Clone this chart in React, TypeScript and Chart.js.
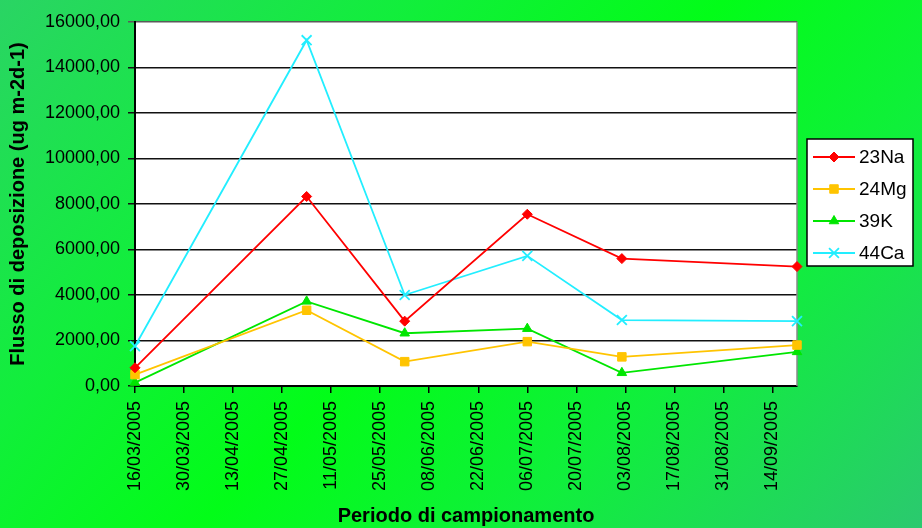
import React, { useEffect, useRef } from "react";
import { Chart, registerables } from "chart.js";
import { drawPoint } from "chart.js/helpers";

Chart.register(...registerables);

// Sampling dates (dd/mm/yyyy) and deposition fluxes (ug m-2 d-1)
const sampleDates = ["16/03/2005", "04/05/2005", "01/06/2005", "06/07/2005", "02/08/2005", "21/09/2005"];
const na23 = [800, 8330, 2850, 7550, 5600, 5250];
const mg24 = [500, 3330, 1070, 1950, 1280, 1800];
const k39 = [150, 3720, 2320, 2520, 580, 1500];
const ca44 = [1750, 15200, 4000, 5720, 2900, 2850];

// Date axis ticks, one every 14 days
const xTickLabels = [
  "16/03/2005", "30/03/2005", "13/04/2005", "27/04/2005", "11/05/2005",
  "25/05/2005", "08/06/2005", "22/06/2005", "06/07/2005", "20/07/2005",
  "03/08/2005", "17/08/2005", "31/08/2005", "14/09/2005",
];

const FONT = '"Liberation Sans", Arial, Helvetica, sans-serif';

function dayOf(s: string): number {
  const [d, m, y] = s.split("/").map(Number);
  const [d0, m0, y0] = sampleDates[0].split("/").map(Number);
  return Math.round((Date.UTC(y, m - 1, d) - Date.UTC(y0, m0 - 1, d0)) / 86400000);
}

const series = [
  { label: "23Na", values: na23, color: "#ff0000", pointStyle: "rectRot", radius: 5 },
  { label: "24Mg", values: mg24, color: "#ffc400", pointStyle: "rect", radius: 6 },
  { label: "39K", values: k39, color: "#00e600", pointStyle: "triangle", radius: 5.5 },
  { label: "44Ca", values: ca44, color: "#22eeff", pointStyle: "crossRot", radius: 7 },
];

// White plot area behind the lines
const plotBackground = {
  id: "plotBackground",
  beforeDraw(chart: any) {
    const { ctx, chartArea } = chart;
    ctx.save();
    ctx.fillStyle = "#ffffff";
    ctx.fillRect(chartArea.left, chartArea.top, chartArea.right - chartArea.left, chartArea.bottom - chartArea.top);
    ctx.restore();
  },
  beforeDatasetsDraw(chart: any) {
    const { ctx, chartArea } = chart;
    ctx.save();
    ctx.strokeStyle = "#8a8a8a";
    ctx.lineWidth = 1.5;
    ctx.beginPath();
    ctx.moveTo(chartArea.right, chartArea.top);
    ctx.lineTo(chartArea.right, chartArea.bottom);
    ctx.stroke();
    ctx.restore();
  },
};

// Boxed legend with line + marker samples
const boxLegend = {
  id: "boxLegend",
  afterDraw(chart: any) {
    const { ctx, chartArea } = chart;
    const x0 = chartArea.right + 10;
    const y0 = 139;
    const w = 106;
    const rowH = 32;
    const h = rowH * chart.data.datasets.length - 1;
    ctx.save();
    ctx.fillStyle = "#ffffff";
    ctx.fillRect(x0, y0, w, h);
    ctx.strokeStyle = "#000000";
    ctx.lineWidth = 1.5;
    ctx.strokeRect(x0, y0, w, h);
    chart.data.datasets.forEach((ds: any, i: number) => {
      const y = y0 + 18 + i * rowH;
      ctx.strokeStyle = ds.borderColor;
      ctx.lineWidth = ds.borderWidth;
      ctx.beginPath();
      ctx.moveTo(x0 + 6, y);
      ctx.lineTo(x0 + 48, y);
      ctx.stroke();
      ctx.fillStyle = ds.pointBackgroundColor;
      ctx.strokeStyle = ds.pointBorderColor;
      ctx.lineWidth = ds.pointBorderWidth;
      drawPoint(ctx, { pointStyle: ds.pointStyle, radius: ds.pointRadius, rotation: 0, borderWidth: ds.pointBorderWidth }, x0 + 27, y);
      ctx.fillStyle = "#000000";
      ctx.font = `19px ${FONT}`;
      ctx.textBaseline = "middle";
      ctx.textAlign = "left";
      ctx.fillText(ds.label, x0 + 52, y + 1);
    });
    ctx.restore();
  },
};

export default function App() {
  const canvasRef = useRef<HTMLCanvasElement | null>(null);

  useEffect(() => {
    if (!canvasRef.current) return;
    Chart.defaults.font.family = FONT;
    const lastDay = dayOf(sampleDates[sampleDates.length - 1]);

    const chart = new Chart(canvasRef.current, {
      type: "line",
      data: {
        datasets: series.map((s) => ({
          label: s.label,
          data: sampleDates.map((d, i) => ({ x: dayOf(d), y: s.values[i] })),
          borderColor: s.color,
          backgroundColor: s.color,
          borderWidth: 1.8,
          pointStyle: s.pointStyle as any,
          pointRadius: s.radius,
          pointBackgroundColor: s.color,
          pointBorderColor: s.color,
          pointBorderWidth: s.pointStyle === "crossRot" ? 1.8 : 1,
          tension: 0,
          fill: false,
          clip: false as any,
        })),
      },
      options: {
        animation: false,
        responsive: false,
        events: [],
        layout: { padding: { left: 0, top: 22, right: 125, bottom: 0 } },
        plugins: { legend: { display: false }, tooltip: { enabled: false } },
        scales: {
          x: {
            type: "linear",
            min: 0,
            max: lastDay,
            afterBuildTicks: (scale: any) => {
              scale.ticks = xTickLabels.map((s) => ({ value: dayOf(s) }));
            },
            afterFit: (scale: any) => {
              scale.height = 142;
            },
            ticks: {
              autoSkip: false,
              minRotation: 90,
              maxRotation: 90,
              padding: 8,
              color: "#000000",
              font: { size: 18 },
              callback: (_v: any, i: number) => xTickLabels[i],
            },
            grid: { drawOnChartArea: false, drawTicks: true, tickLength: 7, color: "#000000", lineWidth: 1.5 },
            border: { display: true, color: "#000000", width: 2 },
            title: {
              display: true,
              text: "Periodo di campionamento",
              color: "#000000",
              font: { size: 20, weight: "bold" },
              padding: { top: 0, bottom: 0 },
            },
          },
          y: {
            min: 0,
            max: 16000,
            afterFit: (scale: any) => {
              scale.width = 135;
            },
            ticks: {
              stepSize: 2000,
              padding: 8,
              color: "#000000",
              font: { size: 18 },
              callback: (v: any) => Number(v).toFixed(2).replace(".", ","),
            },
            grid: {
              color: (c: any) => (c.tick && c.tick.value === 16000 ? "#5a5a5a" : "#111111"),
              lineWidth: 1.5,
              tickLength: 7,
            },
            border: { display: true, color: "#000000", width: 2 },
            title: {
              display: true,
              text: "Flusso di deposizione (ug m-2d-1)",
              color: "#000000",
              font: { size: 20, weight: "bold" },
              padding: { top: 6, bottom: 0 },
            },
          },
        },
      },
      plugins: [plotBackground, boxLegend],
    });

    return () => chart.destroy();
  }, []);

  return (
    <div
      style={{
        position: "fixed",
        left: 0,
        top: 0,
        width: 922,
        height: 528,
        background:
          "linear-gradient(135deg, #2ad464 0%, #12ee3c 28%, #02fd18 50%, #10ef3c 72%, #2bc96f 100%)",
      }}
    >
      <canvas ref={canvasRef} width={922} height={528} style={{ display: "block" }} />
    </div>
  );
}
